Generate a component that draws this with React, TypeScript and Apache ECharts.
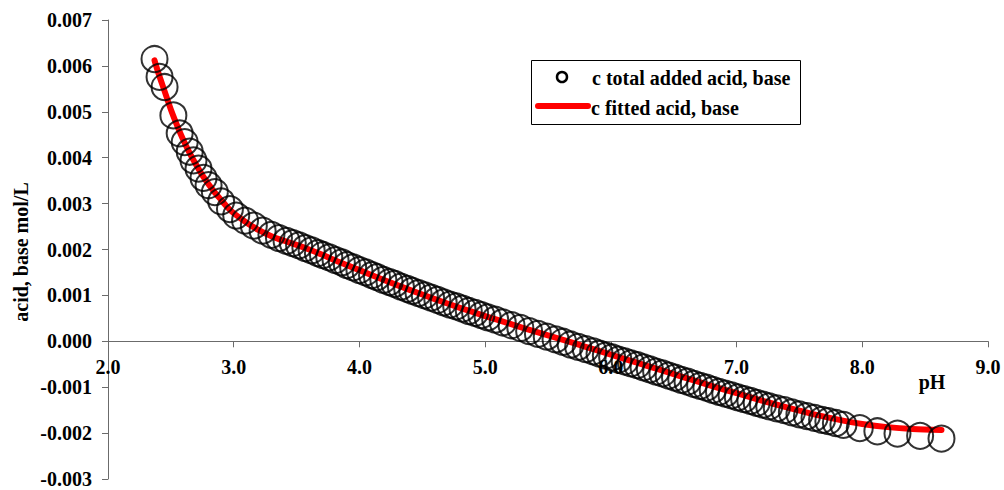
import React, { useEffect, useRef } from "react";
import * as echarts from "echarts";

// measured points: pH and total added acid/base (mol/L)
const measuredPH: number[] = [
  2.37, 2.41, 2.45, 2.52, 2.57, 2.61, 2.65, 2.68, 2.72, 2.76, 2.8, 2.85, 2.9, 2.97,
  3.02, 3.09, 3.16, 3.23, 3.3, 3.36, 3.42, 3.47, 3.52, 3.57, 3.62, 3.67, 3.71, 3.76,
  3.81, 3.86, 3.9, 3.95, 4.0, 4.05, 4.1, 4.14, 4.19, 4.24, 4.28, 4.33, 4.38, 4.42,
  4.47, 4.52, 4.57, 4.62, 4.67, 4.72, 4.77, 4.82, 4.87, 4.92, 4.97, 5.02, 5.08, 5.14,
  5.21, 5.28, 5.35, 5.42, 5.49, 5.56, 5.62, 5.68, 5.74, 5.8, 5.86, 5.91, 5.96, 6.01,
  6.06, 6.11, 6.16, 6.21, 6.26, 6.31, 6.36, 6.41, 6.46, 6.51, 6.56, 6.61, 6.66, 6.71,
  6.76, 6.81, 6.86, 6.91, 6.96, 7.01, 7.06, 7.11, 7.16, 7.21, 7.26, 7.32, 7.38, 7.44,
  7.5, 7.56, 7.62, 7.68, 7.73, 7.79, 7.85, 7.98, 8.12, 8.28, 8.46, 8.63,
];
const measuredC: number[] = [
  0.00615, 0.00576, 0.00554, 0.00492, 0.00453, 0.00434, 0.00413, 0.00394, 0.00376,
  0.00356, 0.0034, 0.00325, 0.00305, 0.00288, 0.00274, 0.00263, 0.00252, 0.00241,
  0.00232, 0.00225, 0.00219, 0.00214, 0.00209, 0.00203, 0.00198, 0.00192, 0.00188,
  0.00183, 0.00177, 0.00172, 0.00166, 0.00161, 0.00155, 0.0015, 0.00144, 0.0014,
  0.00134, 0.00129, 0.00125, 0.00119, 0.00114, 0.0011, 0.00105, 0.001, 0.00095,
  0.0009, 0.00085, 0.0008, 0.00076, 0.00071, 0.00066, 0.00062, 0.00057, 0.00052,
  0.00047, 0.00041, 0.00035, 0.00029, 0.00022, 0.00016, 0.0001, 0.00004, -0.00001,
  -0.00007, -0.00012, -0.00017, -0.00022, -0.00027, -0.00031, -0.00035, -0.0004,
  -0.00044, -0.00048, -0.00052, -0.00057, -0.00061, -0.00066, -0.0007, -0.00075,
  -0.00079, -0.00084, -0.00088, -0.00093, -0.00097, -0.00101, -0.00106, -0.0011,
  -0.00114, -0.00118, -0.00122, -0.00126, -0.0013, -0.00134, -0.00138, -0.00142,
  -0.00146, -0.0015, -0.00155, -0.00159, -0.00163, -0.00167, -0.00171, -0.00174,
  -0.00178, -0.00182, -0.00189, -0.00196, -0.00201, -0.00206, -0.00212,
];

// fitted curve
const fitPH: number[] = [
  2.37, 2.4, 2.45, 2.5, 2.55, 2.6, 2.65, 2.7, 2.75, 2.8, 2.85, 2.9, 2.95, 3.0, 3.1,
  3.2, 3.3, 3.4, 3.5, 3.6, 3.7, 3.8, 3.9, 4.0, 4.2, 4.4, 4.6, 4.8, 5.0, 5.2, 5.4,
  5.6, 5.8, 6.0, 6.2, 6.4, 6.6, 6.8, 7.0, 7.2, 7.4, 7.6, 7.8, 8.0, 8.2, 8.4, 8.63,
];
const fitC: number[] = [
  0.00612, 0.00585, 0.00545, 0.00505, 0.0047, 0.00438, 0.0041, 0.00385, 0.00362,
  0.00342, 0.00324, 0.00308, 0.00292, 0.00279, 0.00259, 0.00242, 0.00229, 0.00219,
  0.0021, 0.002, 0.00189, 0.00177, 0.00166, 0.00155, 0.00133, 0.00112, 0.00092,
  0.00073, 0.00055, 0.00038, 0.00021, 0.00005, -0.00012, -0.00029, -0.00046,
  -0.00063, -0.0008, -0.00097, -0.00113, -0.00129, -0.00144, -0.00158, -0.0017,
  -0.0018, -0.00187, -0.00191, -0.00193,
];

const xTicks = { min: 2, max: 9, interval: 1 };
const yTicks = { min: -0.003, max: 0.007, interval: 0.001 };

const seriesNames = ["c total added acid, base", "c fitted acid, base"];
const yTitle = "acid, base mol/L";
const xTitle = "pH";

const FONT = "Liberation Serif";
const GRID = { left: 108, top: 20, width: 880, height: 459 };
// x axis crosses at y = 0: pull it up from the grid bottom by the share of the range below zero
const xAxisOffset = -(GRID.height * (0 - yTicks.min)) / (yTicks.max - yTicks.min);

export default function App() {
  const ref = useRef<HTMLDivElement>(null);
  useEffect(() => {
    if (!ref.current) return;
    const chart = echarts.init(ref.current, undefined, { renderer: "svg" });
    const labelStyle = {
      fontFamily: FONT,
      fontWeight: "bold" as const,
      fontSize: 20,
      color: "#000",
    };
    chart.setOption({
      animation: false,
      backgroundColor: "#fff",
      textStyle: { fontFamily: FONT, fontWeight: "bold" },
      grid: { ...GRID, containLabel: false, outerBoundsMode: "none" },
      xAxis: {
        type: "value",
        position: "bottom",
        offset: xAxisOffset,
        min: xTicks.min,
        max: xTicks.max,
        interval: xTicks.interval,
        axisLine: { show: true, onZero: false, lineStyle: { color: "#6b6b6b", width: 1 } },
        axisTick: { show: true, inside: false, length: 6, lineStyle: { color: "#6b6b6b" } },
        splitLine: { show: false },
        axisLabel: {
          ...labelStyle,
          margin: 16,
          formatter: (v: number) => v.toFixed(1),
        },
      },
      yAxis: {
        type: "value",
        min: yTicks.min,
        max: yTicks.max,
        interval: yTicks.interval,
        axisLine: { show: true, lineStyle: { color: "#6b6b6b", width: 1 } },
        axisTick: { show: true, inside: false, length: 6, lineStyle: { color: "#6b6b6b" } },
        splitLine: { show: false },
        axisLabel: {
          ...labelStyle,
          lineHeight: 14,
          margin: 16,
          formatter: (v: number) => v.toFixed(3),
        },
      },
      series: [
        {
          name: seriesNames[1],
          type: "line",
          data: fitPH.map((x, i) => [x, fitC[i]]),
          showSymbol: false,
          smooth: 0.3,
          lineStyle: { color: "#ff0000", width: 6, cap: "round", join: "round" },
          silent: true,
          z: 2,
        },
        {
          name: seriesNames[0],
          type: "scatter",
          data: measuredPH.map((x, i) => [x, measuredC[i]]),
          symbol: "circle",
          symbolSize: 26,
          itemStyle: { color: "rgba(0,0,0,0)", borderColor: "#000", borderWidth: 2 },
          silent: true,
          z: 3,
        },
      ],
      graphic: [
        {
          type: "text",
          x: 21,
          y: 252,
          rotation: Math.PI / 2,
          style: {
            text: yTitle,
            fontFamily: FONT,
            fontWeight: "bold",
            fontSize: 20,
            fill: "#000",
            align: "center",
            verticalAlign: "middle",
          },
        },
        {
          type: "text",
          x: 932,
          y: 382,
          style: {
            text: xTitle,
            fontFamily: FONT,
            fontWeight: "bold",
            fontSize: 20,
            fill: "#000",
            align: "center",
            verticalAlign: "middle",
          },
        },
        {
          type: "group",
          children: [
            {
              type: "rect",
              shape: { x: 531.5, y: 60.5, width: 269, height: 64 },
              style: { fill: "#fff", stroke: "#000", lineWidth: 1 },
            },
            {
              type: "circle",
              shape: { cx: 562, cy: 77, r: 5 },
              style: { fill: "none", stroke: "#000", lineWidth: 2.5 },
            },
            {
              type: "line",
              shape: { x1: 538, y1: 106, x2: 588, y2: 106 },
              style: { stroke: "#ff0000", lineWidth: 6, lineCap: "round" },
            },
            {
              type: "text",
              x: 592,
              y: 78,
              style: {
                text: seriesNames[0],
                fontFamily: FONT,
                fontWeight: "bold",
                fontSize: 20,
                fill: "#000",
                align: "left",
                verticalAlign: "middle",
              },
            },
            {
              type: "text",
              x: 591,
              y: 108,
              style: {
                text: seriesNames[1],
                fontFamily: FONT,
                fontWeight: "bold",
                fontSize: 20,
                fill: "#000",
                align: "left",
                verticalAlign: "middle",
              },
            },
          ],
        },
      ],
    });
    return () => chart.dispose();
  }, []);
  return (
    <div
      ref={ref}
      style={{ position: "absolute", left: 0, top: 0, width: 1004, height: 490 }}
    />
  );
}
